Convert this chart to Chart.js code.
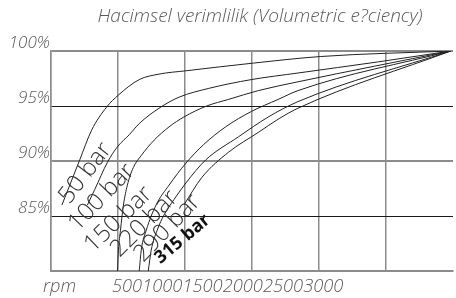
<!DOCTYPE html>
<html>
<head>
<meta charset="utf-8">
<script src="https://cdn.jsdelivr.net/npm/chart.js@4.4.1/dist/chart.umd.min.js"></script>
<style>
html, body { margin: 0; padding: 0; background: #fff; }
</style>
</head>
<body>
<canvas id="Chart" width="456" height="298"></canvas>
<script>
'use strict';
// textes du graphique
const titre = 'Hacimsel verimlilik (Volumetric e?ciency)';
const titreX = 'rpm';
const xTicks = [500, 1000, 1500, 2000, 2500, 3000];
const yTicks = [85, 90, 95, 100];
const seriesNames = ['50 bar', '100 bar', '150 bar', '220 bar', '290 bar', '315 bar'];

// valeurs (rpm, rendement %)
const rpm50 = [81, 213, 301, 412, 500, 654, 801, 1000, 1500, 2000, 2963];
const eff50 = [86.0, 90.1, 92.8, 94.9, 96.0, 97.4, 97.9, 98.2, 98.9, 99.5, 100];
const rpm100 = [270, 324, 419, 493, 581, 654, 801, 949, 1169, 1485, 1831, 2419, 2963];
const eff100 = [86.0, 87.4, 89.9, 91.3, 92.4, 93.4, 94.8, 95.8, 96.6, 97.4, 98.0, 99.0, 100];
const rpm150 = [493, 500, 515, 537, 566, 610, 669, 765, 875, 985, 1154, 1316, 1537, 1831, 2963];
const eff150 = [80.0, 81.9, 83.7, 86.0, 87.8, 89.4, 90.5, 91.9, 93.1, 94.0, 95.0, 95.6, 96.4, 97.2, 100];
const rpm220 = [654, 669, 706, 779, 875, 1000, 1132, 1294, 1485, 1684, 1831, 2963];
const eff220 = [80.0, 81.9, 83.7, 86.0, 87.8, 89.8, 91.5, 93.1, 94.5, 95.6, 96.4, 100];
const rpm290 = [721, 743, 787, 838, 912, 1000, 1147, 1390, 1610, 1831, 2963];
const eff290 = [80.0, 81.9, 83.7, 85.1, 86.5, 88.0, 90.1, 92.2, 94.0, 95.4, 100];
const rpm315 = [985, 1118, 1316, 1537, 1684, 1831, 2963];
const eff315 = [86.0, 88.5, 90.8, 92.6, 93.8, 94.8, 100];

const allRpm = [rpm50, rpm100, rpm150, rpm220, rpm290, rpm315];
const allEff = [eff50, eff100, eff150, eff220, eff290, eff315];

// emplacement des étiquettes des courbes (rpm, %, angle)
const labelPos = [
    [255, 88.9, -52],
    [375, 86.7, -46],
    [500, 84.7, -44],
    [692, 84.3, -45],
    [862, 83.9, -46],
    [975, 82.9, -40]
];

const police = '"Open Sans", "DejaVu Sans", sans-serif';
const gris = '#5a5a5a';

//plugin pour les textes libres
const textes = {
    id: 'textes',
    afterDraw(chart) {
        const ctx = chart.ctx;
        const x = chart.scales.x;
        const y = chart.scales.y;
        ctx.save();
        // titre
        ctx.fillStyle = gris;
        ctx.font = 'italic 300 19px ' + police;
        ctx.textAlign = 'center';
        ctx.textBaseline = 'middle';
        ctx.fillText(titre, 260, 17);
        // axe x
        ctx.textAlign = 'left';
        ctx.textBaseline = 'alphabetic';
        ctx.font = 'italic 300 18.3px ' + police;
        ctx.fillText(titreX, 43, 292);
        ctx.fillText(xTicks.join(''), 112, 292);
        // étiquettes des courbes
        seriesNames.forEach((nom, i) => {
            const p = labelPos[i];
            ctx.save();
            ctx.translate(x.getPixelForValue(p[0]), y.getPixelForValue(p[1]));
            ctx.rotate(p[2] * Math.PI / 180);
            ctx.textAlign = 'center';
            ctx.textBaseline = 'middle';
            if (i === seriesNames.length - 1) {
                ctx.fillStyle = '#111';
                ctx.font = 'bold 18px ' + police;
            } else {
                ctx.fillStyle = '#333';
                ctx.font = '300 24px ' + police;
            }
            ctx.fillText(nom, 0, 0);
            ctx.restore();
        });
        ctx.restore();
    }
};

const grille = c => (c.tick && c.tick.value < 2900) ? '#8c8c8c' : 'rgba(0,0,0,0)';

const ctx = document.getElementById('Chart').getContext('2d');
new Chart(ctx, {
    type: 'line',
    data: {
        datasets: seriesNames.map((nom, i) => ({
            label: nom,
            data: allRpm[i].map((r, j) => ({ x: r, y: allEff[i][j] })),
            borderColor: '#222',
            borderWidth: 1,
            pointRadius: 0,
            fill: false,
            cubicInterpolationMode: 'monotone'
        }))
    },
    options: {
        responsive: false,
        animation: false,
        layout: { padding: { top: 51, left: 0, right: 0, bottom: 0 } },
        plugins: { legend: { display: false }, tooltip: { enabled: false } },
        scales: {
            x: {
                type: 'linear',
                min: 0,
                max: 2980,
                ticks: { stepSize: 500, display: true, autoSkip: false, maxRotation: 0, callback: () => '' },
                grid: {
                    display: true,
                    drawTicks: false,
                    color: grille,
                    lineWidth: 1.5
                },
                border: { display: true, color: '#8c8c8c', width: 2 },
                afterFit: axis => { axis.height = 27; }
            },
            y: {
                min: 80,
                max: 100,
                ticks: {
                    stepSize: 5,
                    padding: 1,
                    labelOffset: -8,
                    color: gris,
                    font: { family: police, size: 17, style: 'italic', weight: 300 },
                    callback: v => yTicks.includes(v) ? v + '%' : ''
                },
                grid: {
                    drawTicks: false,
                    color: c => (c.tick && (c.tick.value === 95 || c.tick.value === 85)) ? '#1a1a1a' : '#8c8c8c',
                    lineWidth: c => (c.tick && (c.tick.value === 95 || c.tick.value === 85)) ? 1 : 2
                },
                border: { display: true, color: '#8c8c8c', width: 1.5 },
                afterFit: axis => { axis.width = 51; }
            }
        }
    },
    plugins: [textes]
});
</script>
</body>
</html>
